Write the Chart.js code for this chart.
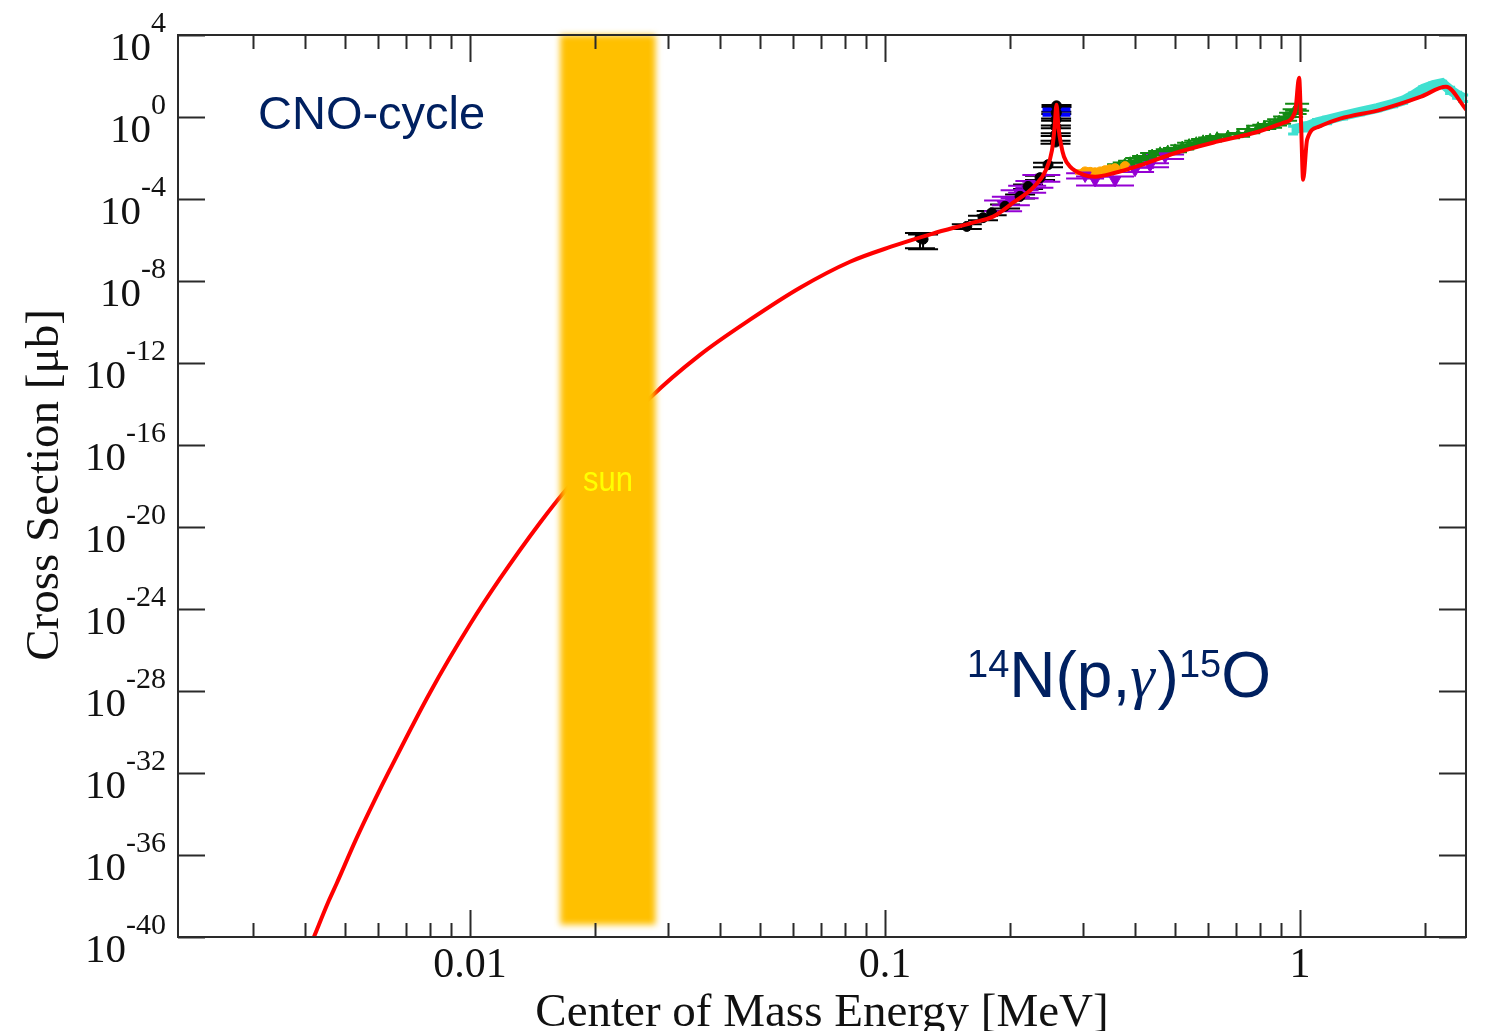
<!DOCTYPE html>
<html>
<head>
<meta charset="utf-8">
<title>14N(p,γ)15O cross section</title>
<script src="https://cdn.jsdelivr.net/npm/chart.js@4.4.1/dist/chart.umd.min.js"></script>
<style>
    html, body { margin: 0; padding: 0; background: #ffffff; }
    canvas { display: block; }
</style>
</head>
<body>
<canvas id="sigmaChart" width="1486" height="1031"></canvas>
<script>
// Axis ranges and ticks
const xMin = 0.00198, xMax = 2.51;
const yMin = 1e-40, yMax = 1e4;
const xMajorTicks = [0.01, 0.1, 1];
const xMajorLabels = ['0.01', '0.1', '1'];
const xMinorTicks = [0.003, 0.004, 0.005, 0.006, 0.007, 0.008, 0.009,
                     0.02, 0.03, 0.04, 0.05, 0.06, 0.07, 0.08, 0.09,
                     0.2, 0.3, 0.4, 0.5, 0.6, 0.7, 0.8, 0.9, 2];
const yTickValues = [1e4, 1e0, 1e-4, 1e-8, 1e-12, 1e-16, 1e-20, 1e-24, 1e-28, 1e-32, 1e-36, 1e-40];
const yTickExponents = ['4', '0', '-4', '-8', '-12', '-16', '-20', '-24', '-28', '-32', '-36', '-40'];

// Gamow window of the sun (energy range, cross section range)
const sunBandE = [0.0165, 0.028];
const sunBandSigma = [4e-40, 1e4];

// R-matrix fit curve (MeV, microbarn)
const fitE = [0.004208, 0.004573, 0.004780, 0.005312, 0.005903, 0.006413, 0.008010, 0.01, 0.01181,
              0.01475, 0.01713, 0.02716, 0.03583, 0.04729, 0.06241, 0.08236, 0.1034, 0.1298, 0.1620,
              0.1821, 0.2034, 0.2286, 0.2443, 0.2526, 0.2561, 0.2589, 0.2618, 0.2655, 0.2699, 0.2791,
              0.3001, 0.3207, 0.3584, 0.4026, 0.5026, 0.6310, 0.7920, 0.9100, 0.9726, 0.9945, 1.0056,
              1.0168, 1.0396, 1.111, 1.249, 1.567, 1.956, 2.247, 2.512];
const fitSigma = [1e-40, 6.0e-39, 4.3e-38, 5.6e-36, 5.0e-34, 1.45e-32, 8.3e-29, 1.74e-25, 3.0e-23,
                  1.62e-20, 7.4e-19, 2.0e-14, 2.5e-12, 1.3e-10, 4.7e-9, 8.7e-8, 4.7e-7, 2.0e-6, 6.9e-6,
                  1.38e-5, 6.6e-5, 4.0e-4, 2.7e-3, 2.5e-2, 0.30, 4.0, 0.30, 4.5e-2, 1.15e-2, 3.8e-3,
                  1.55e-3, 1.23e-3, 1.9e-3, 3.8e-3, 1.8e-2, 6.3e-2, 0.19, 0.52, 1.8, 83, 0.42,
                  8.7e-4, 7.8e-2, 0.34, 0.83, 2.3, 9.8, 30, 2.3];

// Measured data sets
const blackE = [0.1214, 0.1235, 0.1574, 0.1722, 0.1807, 0.1946, 0.2115, 0.2211, 0.2363, 0.2470,
                0.2575, 0.2578, 0.2580, 0.2583, 0.2586, 0.2589];
const blackSigma = [1.3e-6, 1.1e-6, 4.6e-6, 1.23e-5, 2.1e-5, 4.4e-5, 1.35e-4, 4.1e-4, 1.1e-3, 4.7e-3,
                    0.06, 0.14, 0.33, 0.75, 1.6, 3.5];
const blackErr = [0.9e-6, 0.75e-6, 1.2e-6, 3e-6, 5e-6, 1e-5, 3e-5, 1e-4, 2.5e-4, 1.2e-3,
                  0.01, 0.02, 0.05, 0.1, 0.2, 0.4];

const blueE = [0.2589];
const blueSigma = [1.8];
const blueErr = [0.5];

const purpleE = [0.1925, 0.2010, 0.2110, 0.2200, 0.2290, 0.2380,
                 0.3034, 0.3206, 0.3582, 0.4003, 0.4350, 0.4728];
const purpleSigma = [5.5e-5, 9e-5, 1.9e-4, 3.2e-4, 5.5e-4, 1.1e-3,
                     1.4e-3, 8.5e-4, 8.5e-4, 2.7e-3, 4.5e-3, 1.2e-2];
const purpleErr = [3e-5, 4e-5, 8e-5, 1.2e-4, 2e-4, 4e-4,
                   4e-4, 4e-4, 4e-4, 6e-4, 1e-3, 3e-3];

const orangeE = [0.3034, 0.3120, 0.3206, 0.3300, 0.3389, 0.3480, 0.3582, 0.3788];
const orangeSigma = [2.1e-3, 2.0e-3, 1.9e-3, 2.1e-3, 2.4e-3, 2.7e-3, 3.0e-3, 3.8e-3];
const orangeErr = [4e-4, 4e-4, 4e-4, 4e-4, 5e-4, 5e-4, 6e-4, 7e-4];

const greenE = [0.3664, 0.3780, 0.3895, 0.4050, 0.4208, 0.4400, 0.4600, 0.4800, 0.4996, 0.5200,
                0.5402, 0.5620, 0.5838, 0.6070, 0.6310, 0.6700, 0.7089, 0.7500, 0.7920, 0.8200,
                0.8466, 0.8700, 0.8901, 0.9200, 0.9513, 0.9700, 0.9835];
const greenSigma = [3.9e-3, 4.9e-3, 5.9e-3, 8.0e-3, 1.0e-2, 1.4e-2, 1.8e-2, 2.2e-2, 2.5e-2, 3.4e-2,
                    4.5e-2, 5.6e-2, 6.9e-2, 8.2e-2, 9.8e-2, 0.118, 0.138, 0.21, 0.30, 0.34,
                    0.38, 0.50, 0.62, 0.85, 1.29, 1.9, 3.2];
const greenErr = [1e-3, 1.2e-3, 1.5e-3, 2e-3, 2.5e-3, 3.5e-3, 4e-3, 5e-3, 6e-3, 8e-3,
                  1e-2, 1.3e-2, 1.5e-2, 1.8e-2, 2e-2, 2.5e-2, 3e-2, 5e-2, 7e-2, 8e-2,
                  8e-2, 0.12, 0.15, 0.2, 0.3, 0.5, 1.2];

const cyanE = [0.9619, 1.0396, 1.0988, 1.1615, 1.2691, 1.3950, 1.5334, 1.6750, 1.7705,
               1.8727, 1.9797, 2.0925, 2.1985, 2.2983, 2.3893, 2.4702];
const cyanSigma = [0.25, 0.36, 0.55, 0.72, 1.15, 1.8, 2.7, 4.4, 6.3,
                   11.5, 24, 36, 45, 21, 12.3, 8.7];
const cyanErr = [0.1, 0.15, 0.2, 0.25, 0.35, 0.5, 0.7, 1.2, 1.6,
                 3.2, 6, 9, 11, 7, 4, 3];

const serif = '"Liberation Serif", "Times New Roman", serif';
const sans = '"Liberation Sans", Arial, sans-serif';
const navy = '#002060';
const axisColor = '#2a2a2a';

function toPoints(xs, ys) {
    return xs.map((x, i) => ({ x: x, y: ys[i] }));
}

// Error bars drawn below every marker and the fit line
const errorBarPlugin = {
    id: 'errorBars',
    beforeDatasetsDraw(chart) {
        const ctx = chart.ctx;
        const xs = chart.scales.x, ys = chart.scales.y;
        ctx.save();
        chart.data.datasets.forEach(ds => {
            if (!ds.errY) return;
            ctx.strokeStyle = ds.errColor;
            ctx.lineWidth = ds.errWidth || 2;
            ds.data.forEach((p, j) => {
                const e = ds.errY[j];
                const px = xs.getPixelForValue(p.x);
                const hi = ys.getPixelForValue(p.y + e);
                const lo = ys.getPixelForValue(Math.max(p.y - e, p.y * 0.1));
                const c = ds.capHalf;
                ctx.beginPath();
                ctx.moveTo(px, hi); ctx.lineTo(px, lo);
                ctx.moveTo(px - c, hi); ctx.lineTo(px + c, hi);
                ctx.moveTo(px - c, lo); ctx.lineTo(px + c, lo);
                ctx.stroke();
            });
        });
        ctx.restore();
    }
};

// Sun band (blurred, over the fit line), frame, ticks and all the text
const decorPlugin = {
    id: 'decor',
    afterDatasetsDraw(chart) {
        const ctx = chart.ctx;
        const xs = chart.scales.x, ys = chart.scales.y;
        const x1 = xs.getPixelForValue(sunBandE[0]);
        const x2 = xs.getPixelForValue(sunBandE[1]);
        const yTop = ys.getPixelForValue(sunBandSigma[1]);
        const yBot = ys.getPixelForValue(sunBandSigma[0]);
        ctx.save();
        ctx.filter = 'blur(3px)';
        ctx.fillStyle = '#ffc000';
        ctx.fillRect(x1, yTop, x2 - x1, yBot - yTop);
        ctx.filter = 'none';
        ctx.fillStyle = '#ffff00';
        ctx.font = '31px ' + sans;
        ctx.textAlign = 'center';
        ctx.translate((x1 + x2) / 2, 491);
        ctx.scale(1, 1.15);
        ctx.fillText('sun', 0, 0);
        ctx.restore();
    },
    afterDraw(chart) {
        const ctx = chart.ctx;
        const xs = chart.scales.x, ys = chart.scales.y;
        const { left, right, top, bottom } = chart.chartArea;
        ctx.save();

        // Frame
        ctx.strokeStyle = axisColor;
        ctx.lineWidth = 2;
        ctx.strokeRect(left, top, right - left, bottom - top);

        // Inward ticks on all four sides
        ctx.beginPath();
        xMajorTicks.forEach(v => {
            const px = Math.round(xs.getPixelForValue(v)) + 0.5;
            ctx.moveTo(px, bottom); ctx.lineTo(px, bottom - 27);
            ctx.moveTo(px, top); ctx.lineTo(px, top + 27);
        });
        xMinorTicks.forEach(v => {
            const px = Math.round(xs.getPixelForValue(v)) + 0.5;
            ctx.moveTo(px, bottom); ctx.lineTo(px, bottom - 14);
            ctx.moveTo(px, top); ctx.lineTo(px, top + 14);
        });
        yTickValues.forEach(v => {
            const py = Math.round(ys.getPixelForValue(v)) + 0.5;
            ctx.moveTo(left, py); ctx.lineTo(left + 27, py);
            ctx.moveTo(right, py); ctx.lineTo(right - 27, py);
        });
        ctx.stroke();

        // Tick labels
        ctx.fillStyle = '#111111';
        ctx.textBaseline = 'alphabetic';
        ctx.textAlign = 'center';
        ctx.font = '42px ' + serif;
        xMajorTicks.forEach((v, i) => {
            ctx.fillText(xMajorLabels[i], xs.getPixelForValue(v), 977);
        });
        ctx.textAlign = 'right';
        yTickValues.forEach((v, i) => {
            const py = ys.getPixelForValue(v);
            ctx.font = '30px ' + serif;
            const supW = ctx.measureText(yTickExponents[i]).width;
            ctx.fillText(yTickExponents[i], 166, py - 3);
            ctx.font = '41px ' + serif;
            ctx.fillText('10', 166 - supW, py + 25);
        });

        // Axis titles
        ctx.textAlign = 'center';
        ctx.font = '47px ' + serif;
        ctx.fillText('Center of Mass Energy [MeV]', 822, 1026);
        ctx.save();
        ctx.translate(58, 485);
        ctx.rotate(-Math.PI / 2);
        ctx.fillText('Cross Section [\u03bcb]', 0, 0);
        ctx.restore();

        // Annotations
        ctx.fillStyle = navy;
        ctx.textAlign = 'left';
        ctx.font = '47px ' + sans;
        ctx.fillText('CNO-cycle', 258, 129);

        const parts = [
            { t: '14', f: '38px ' + sans, dy: -20 },
            { t: 'N(p,', f: '64px ' + sans, dy: 0 },
            { t: '\u03b3', f: 'italic 62px ' + serif, dy: 0 },
            { t: ')', f: '64px ' + sans, dy: 0 },
            { t: '15', f: '38px ' + sans, dy: -20 },
            { t: 'O', f: '64px ' + sans, dy: 0 }
        ];
        let cx = 967;
        parts.forEach(p => {
            ctx.font = p.f;
            ctx.fillText(p.t, cx, 697 + p.dy);
            cx += ctx.measureText(p.t).width + (p.t === '\u03b3' ? 3 : 0);
        });
        ctx.restore();
    }
};

const chart = new Chart(document.getElementById('sigmaChart'), {
    type: 'scatter',
    data: {
        datasets: [
            {
                label: 'fit',
                data: toPoints(fitE, fitSigma),
                showLine: true,
                borderColor: '#ff0000',
                borderWidth: 4,
                pointRadius: 0,
                cubicInterpolationMode: 'monotone',
                order: 0
            },
            {
                label: 'black',
                data: toPoints(blackE, blackSigma),
                backgroundColor: '#000000',
                borderColor: '#000000',
                pointRadius: 5,
                errY: blackErr, errColor: '#000000', capHalf: 15,
                order: 1
            },
            {
                label: 'blue',
                data: toPoints(blueE, blueSigma),
                backgroundColor: '#0000ff',
                borderColor: '#0000ff',
                pointRadius: 4,
                errY: blueErr, errColor: '#0000ff', errWidth: 4, capHalf: 14,
                order: 2
            },
            {
                label: 'purple',
                data: toPoints(purpleE, purpleSigma),
                pointStyle: 'triangle',
                rotation: 180,
                backgroundColor: '#9400d3',
                borderColor: '#9400d3',
                pointRadius: 7,
                errY: purpleErr, errColor: '#9400d3', capHalf: 19,
                order: 3
            },
            {
                label: 'orange',
                data: toPoints(orangeE, orangeSigma),
                backgroundColor: '#ffa500',
                borderColor: '#ffa500',
                pointRadius: 5,
                errY: orangeErr, errColor: '#ffa500', capHalf: 10,
                order: 4
            },
            {
                label: 'green',
                data: toPoints(greenE, greenSigma),
                pointStyle: 'triangle',
                backgroundColor: '#138a13',
                borderColor: '#138a13',
                pointRadius: 6,
                errY: greenErr, errColor: '#138a13', capHalf: 12,
                order: 5
            },
            {
                label: 'turquoise',
                data: toPoints(cyanE, cyanSigma),
                showLine: true,
                borderColor: '#40e0d0',
                backgroundColor: '#40e0d0',
                borderWidth: 10,
                pointRadius: 0,
                errY: cyanErr, errColor: '#40e0d0', errWidth: 3, capHalf: 5,
                order: 6
            }
        ]
    },
    options: {
        responsive: false,
        animation: false,
        layout: { padding: { left: 178, right: 20, top: 35, bottom: 94 } },
        plugins: {
            legend: { display: false },
            tooltip: { enabled: false }
        },
        scales: {
            x: {
                type: 'logarithmic',
                min: xMin,
                max: xMax,
                display: false
            },
            y: {
                type: 'logarithmic',
                min: yMin,
                max: yMax,
                display: false
            }
        }
    },
    plugins: [errorBarPlugin, decorPlugin]
});
</script>
</body>
</html>
